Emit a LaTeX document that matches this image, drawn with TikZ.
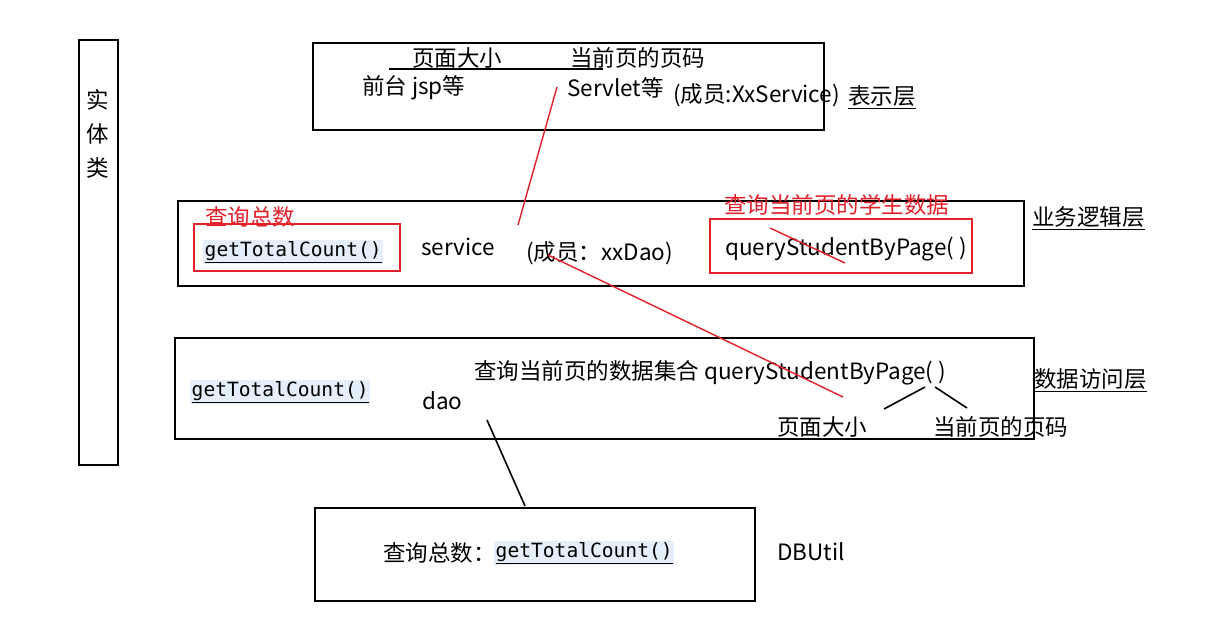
\documentclass[tikz,border=0pt]{standalone}
\usepackage{fontspec}
\setmainfont{Noto Sans CJK SC}
\newfontfamily\monof{DejaVu Sans Mono}
\definecolor{hlred}{RGB}{228,32,42}
\definecolor{hlblue}{RGB}{229,239,251}
\begin{document}
\begin{tikzpicture}[x=1pt,y=-1pt,
  box/.style={draw=black,line width=2.6pt},
  redbox/.style={draw=hlred,line width=2pt},
  txt/.style={inner sep=0pt,anchor=west,font=\fontsize{22.5}{26}\selectfont},
  rtxt/.style={txt,text=hlred},
  code/.style={inner sep=1.5pt,anchor=west,fill=hlblue,font=\fontsize{19.6}{23}\selectfont\monof},
  redline/.style={draw=hlred,line width=1.4pt},
  blkline/.style={draw=black,line width=1.6pt}]
\useasboundingbox (0,0) rectangle (1212,637);
\fill[white] (0,0) rectangle (1212,637);
% entity column
\draw[box] (79,40) rectangle (118,465);
\node[txt,anchor=center] (e1) at (98,100) {实};
\node[txt,anchor=center] (e2) at (98,134) {体};
\node[txt,anchor=center] (e3) at (98,168) {类};
% presentation layer
\draw[box] (313,43) rectangle (824,130);
\node[txt] (psize) at (412,58) {页面大小};
\node[txt] (pnum) at (570,58) {当前页的页码};
\draw[line width=2.4pt] (389,69) -- (603,69);
\node[txt] (jsp) at (362,88) {前台 jsp等};
\node[txt] (servlet) at (567,88) {Servlet等};
\node[txt] (xxs) at (673,95) {(成员:XxService)};
\node[txt] (l1) at (848,97) {\underline{表示层}};
% business layer
\draw[box] (178,201) rectangle (1024,286);
\draw[redbox] (194,224) rectangle (400,271);
\node[rtxt] (q1) at (205,217) {查询总数};
\node[code] (gtc1) at (203,252) {\underline{getTotalCount()}};
\node[txt] (svc) at (421,247) {service};
\node[txt] (xxd) at (526,253) {(成员：xxDao)};
\draw[redbox] (710,219) rectangle (972,273);
\node[rtxt] (q2) at (724,205) {查询当前页的学生数据};
\node[txt] (qsp1) at (725,249) {queryStudentByPage( )};
\node[txt] (l2) at (1032,218) {\underline{业务逻辑层}};
% data access layer
\draw[box] (175,338) rectangle (1034,439);
\node[code] (gtc2) at (190,392) {\underline{getTotalCount()}};
\node[txt] (dao) at (422,401) {dao};
\node[txt] (qsp2) at (474,373) {查询当前页的数据集合 queryStudentByPage( )};
\node[txt] (dsize) at (777,427) {页面大小};
\node[txt] (dnum) at (933,427) {当前页的页码};
\node[txt] (l3) at (1034,380) {\underline{数据访问层}};
% DBUtil
\draw[box] (315,508) rectangle (755,601);
\node[txt] (q3) at (383,553) {查询总数：};
\node[code] (gtc3) at (494,553) {\underline{getTotalCount()}};
\node[txt] (dbu) at (777,552) {DBUtil};
% connectors
\coordinate (r1a) at (518,225);
\coordinate (r1b) at (557,87);
\draw[redline] (r1a) -- (r1b);
\coordinate (r2a) at (548,255);
\coordinate (r2b) at (843,397);
\draw[redline] (r2a) -- (r2b);
\coordinate (r3a) at (770,228);
\coordinate (r3b) at (845,263);
\draw[redline] (r3a) -- (r3b);
\coordinate (b1a) at (884,409);
\coordinate (b1b) at (925,387);
\draw[blkline] (b1a) -- (b1b);
\coordinate (b2a) at (935,387);
\coordinate (b2b) at (967,408);
\draw[blkline] (b2a) -- (b2b);
\coordinate (b3a) at (487,420);
\coordinate (b3b) at (525,506);
\draw[blkline] (b3a) -- (b3b);
\end{tikzpicture}
\end{document}
